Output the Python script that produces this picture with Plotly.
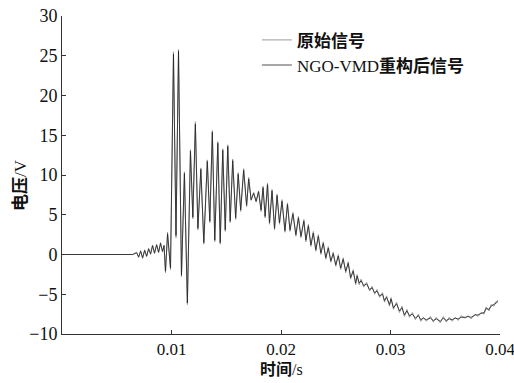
import plotly.graph_objects as go

# time (s) of signal turning points
time_s = [0.0, 0.00645, 0.00682, 0.00700, 0.00718, 0.00736, 0.00755, 0.00773, 0.00791, 0.00809,
          0.00827, 0.00845, 0.00864, 0.00882, 0.00900, 0.00918, 0.00932, 0.00945, 0.00964, 0.00991,
          0.01018, 0.01041, 0.01064, 0.01091, 0.01118, 0.01145, 0.01173, 0.01195, 0.01218, 0.01241,
          0.01268, 0.01295, 0.01327, 0.01350, 0.01373, 0.01395, 0.01423, 0.01445, 0.01468, 0.01491,
          0.01514, 0.01536, 0.01559, 0.01586, 0.01609, 0.01632, 0.01659, 0.01686, 0.01705, 0.01727,
          0.01750, 0.01773, 0.01795, 0.01818, 0.01836, 0.01855, 0.01877, 0.01895, 0.01918, 0.01941,
          0.01964, 0.01986, 0.02009, 0.02036, 0.02059, 0.02082, 0.02109, 0.02136, 0.02159, 0.02182,
          0.02209, 0.02227, 0.02250, 0.02273, 0.02295, 0.02318, 0.02341, 0.02364, 0.02386, 0.02409,
          0.02432, 0.02455, 0.02477, 0.02500, 0.02523, 0.02545, 0.02568, 0.02591, 0.02614, 0.02636,
          0.02659, 0.02682, 0.02695, 0.02714, 0.02732, 0.02755, 0.02782, 0.02809, 0.02832, 0.02855,
          0.02877, 0.02900, 0.02927, 0.02945, 0.02964, 0.02991, 0.03005, 0.03027, 0.03055, 0.03082,
          0.03105, 0.03127, 0.03150, 0.03173, 0.03200, 0.03227, 0.03255, 0.03277, 0.03300, 0.03327,
          0.03364, 0.03391, 0.03418, 0.03455, 0.03482, 0.03509, 0.03536, 0.03564, 0.03591, 0.03618,
          0.03645, 0.03682, 0.03709, 0.03736, 0.03773, 0.03800, 0.03827, 0.03855, 0.03873, 0.03900,
          0.03918, 0.03945, 0.03964, 0.03982]

# original signal (V)
original_v = [0.0, 0.0, 0.3, -0.4, 0.5, -0.5, 0.6, -0.3, 0.8, 0.0,
              1.2, 0.1, 1.3, 0.2, 1.5, 0.3, 1.2, -2.3, 2.8, -1.9,
              25.5, 2.1, 25.8, -2.8, 10.4, -6.3, 13.2, 4.5, 16.7, 3.1,
              10.9, 1.3, 11.9, 4.0, 15.6, 1.6, 14.2, 1.3, 13.3, 2.9,
              13.8, 4.0, 12.0, 4.4, 10.3, 5.4, 10.8, 6.0, 9.7, 6.8,
              7.8, 6.6, 8.0, 5.4, 8.6, 4.6, 9.0, 3.8, 8.2, 3.1,
              7.6, 3.8, 6.9, 2.8, 6.5, 2.9, 5.3, 2.3, 4.8, 2.1,
              4.4, 1.6, 3.8, 1.0, 2.9, 0.4, 2.5, 0.0, 1.6, -0.6,
              1.0, -1.0, 0.3, -1.5, 0.0, -1.9, -0.4, -2.3, -0.9, -3.1,
              -1.9, -3.8, -2.5, -3.8, -3.1, -4.1, -3.5, -4.6, -4.0, -5.0,
              -4.4, -5.4, -4.8, -6.0, -5.2, -6.5, -5.4, -6.9, -6.0, -7.3,
              -6.5, -7.8, -6.9, -7.9, -7.3, -8.2, -7.5, -8.4, -7.9, -8.4,
              -7.8, -8.5, -7.9, -8.6, -7.8, -8.5, -7.9, -8.4, -7.9, -8.3,
              -7.7, -8.0, -7.7, -8.1, -7.5, -7.8, -7.3, -7.5, -6.6, -7.1,
              -6.3, -6.5, -5.9, -5.8]

# NGO-VMD reconstructed signal (V)
reconstructed_v = [0.0, 0.0, 0.2, -0.3, 0.4, -0.4, 0.5, -0.2, 0.7, 0.1,
                   1.1, 0.2, 1.2, 0.3, 1.4, 0.4, 1.1, -2.1, 2.6, -1.7,
                   25.2, 2.4, 25.6, -2.6, 10.2, -6.1, 13.0, 4.7, 16.4, 3.3,
                   10.7, 1.5, 11.7, 4.2, 15.4, 1.8, 14.0, 1.5, 13.1, 3.1,
                   13.6, 4.2, 11.8, 4.6, 10.1, 5.6, 10.6, 6.2, 9.5, 6.9,
                   7.7, 6.7, 7.9, 5.6, 8.4, 4.8, 8.8, 4.0, 8.0, 3.3,
                   7.4, 4.0, 6.7, 3.0, 6.3, 3.1, 5.1, 2.5, 4.6, 2.3,
                   4.2, 1.8, 3.6, 1.2, 2.7, 0.6, 2.3, 0.2, 1.4, -0.4,
                   0.8, -0.8, 0.1, -1.3, -0.2, -1.7, -0.6, -2.1, -1.1, -2.9,
                   -2.1, -3.6, -2.7, -3.6, -3.3, -3.9, -3.7, -4.4, -4.2, -4.8,
                   -4.6, -5.2, -5.0, -5.8, -5.4, -6.3, -5.6, -6.7, -6.2, -7.1,
                   -6.7, -7.6, -7.1, -7.7, -7.5, -8.0, -7.7, -8.2, -8.0, -8.2,
                   -8.0, -8.3, -8.1, -8.4, -8.0, -8.3, -8.1, -8.2, -8.0, -8.1,
                   -7.9, -7.9, -7.8, -7.9, -7.6, -7.6, -7.4, -7.3, -6.8, -6.9,
                   -6.5, -6.3, -6.1, -5.9]

x_ticks = [0.01, 0.02, 0.03, 0.04]
x_tick_text = ["0.01", "0.02", "0.03", "0.04"]
y_ticks = [-10, -5, 0, 5, 10, 15, 20, 25, 30]

serif = "Liberation Serif, Times New Roman, serif"
cjk = "Liberation Serif, Noto Sans CJK SC, serif"

fig = go.Figure()
fig.add_trace(go.Scatter(x=time_s, y=original_v, mode="lines", name="<b>原始信号</b>",
                         line=dict(color="#9a9a9a", width=1)))
fig.add_trace(go.Scatter(x=time_s, y=reconstructed_v, mode="lines", name="NGO-VMD<b>重构后信号</b>",
                         line=dict(color="#222222", width=0.8)))

fig.update_layout(
    width=514, height=383,
    margin=dict(l=62, r=14, t=16, b=49),
    paper_bgcolor="white", plot_bgcolor="white",
    font=dict(family=serif, size=18, color="#111"),
    legend=dict(x=0.445, y=0.98, xanchor="left", yanchor="top",
                bgcolor="rgba(0,0,0,0)", font=dict(family=cjk, size=17),
                tracegroupgap=0, itemwidth=30),
    xaxis=dict(range=[0, 0.04], tickvals=x_ticks, ticktext=x_tick_text,
               automargin=False, tickfont=dict(size=17), ticklabeloverflow="allow",
               showgrid=False, zeroline=False, showline=True, linecolor="#333", linewidth=1,
               ticks="inside", ticklen=4, tickcolor="#333"),
    yaxis=dict(range=[-10, 30], tickvals=y_ticks, automargin=False,
               showgrid=False, zeroline=False, showline=True, linecolor="#333", linewidth=1,
               ticks="inside", ticklen=4, tickcolor="#333"),
    annotations=[
        dict(text="<b>时间</b>/s", xref="paper", yref="paper", x=0.5, y=-0.078,
             xanchor="center", yanchor="top", showarrow=False, font=dict(family=cjk, size=16)),
        dict(text="<b>电压</b>/V", xref="paper", yref="paper", x=-0.095, y=0.47,
             xanchor="center", yanchor="middle", textangle=-90, showarrow=False,
             font=dict(family=cjk, size=17)),
    ],
)

fig.write_html("out.html")
